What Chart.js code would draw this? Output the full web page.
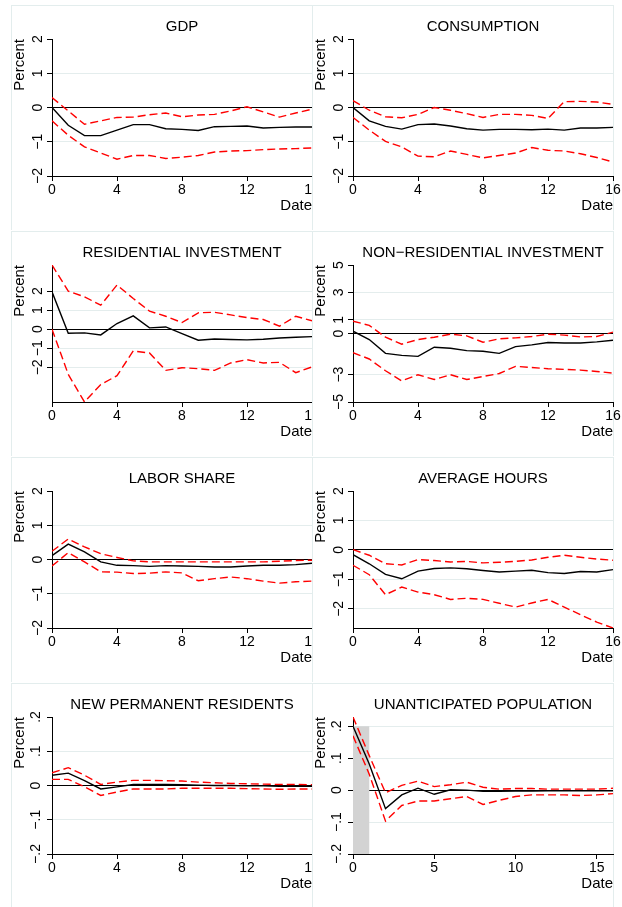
<!DOCTYPE html>
<html>
<head>
<meta charset="utf-8">
<script src="https://cdn.jsdelivr.net/npm/chart.js@4.4.0/dist/chart.umd.min.js"></script>
<style>
  body { margin: 0; background: #fff; width: 622px; height: 907px; position: relative; overflow: hidden; }
  .panel { position: absolute; background: #fff; border-top: 1px solid #e3eded; border-left: 1px solid #e3eded; border-right: 1px solid #e3eded; }
  .panel canvas { position: absolute; left: 0; top: 0; }
</style>
</head>
<body>
<script>
// horizon
var dates = [0, 1, 2, 3, 4, 5, 6, 7, 8, 9, 10, 11, 12, 13, 14, 15, 16];

// GDP
var gdpIrf   = [0, -0.52, -0.82, -0.82, -0.66, -0.5, -0.5, -0.62, -0.64, -0.67, -0.56, -0.55, -0.54, -0.6, -0.58, -0.57, -0.57];
var gdpUpper = [0.29, -0.1, -0.49, -0.39, -0.29, -0.28, -0.21, -0.16, -0.27, -0.22, -0.2, -0.1, 0.02, -0.13, -0.28, -0.16, -0.05];
var gdpLower = [-0.39, -0.81, -1.15, -1.33, -1.51, -1.4, -1.4, -1.49, -1.45, -1.4, -1.3, -1.27, -1.26, -1.23, -1.21, -1.2, -1.18];

// consumption
var consIrf   = [0, -0.39, -0.55, -0.63, -0.5, -0.48, -0.54, -0.62, -0.66, -0.64, -0.64, -0.65, -0.63, -0.66, -0.6, -0.6, -0.58];
var consUpper = [0.2, -0.08, -0.27, -0.3, -0.2, 0, -0.08, -0.18, -0.29, -0.2, -0.2, -0.23, -0.32, 0.17, 0.18, 0.16, 0.09];
var consLower = [-0.29, -0.66, -0.99, -1.15, -1.42, -1.44, -1.27, -1.37, -1.47, -1.4, -1.33, -1.17, -1.25, -1.27, -1.35, -1.46, -1.59];

// residential investment
var resIrf   = [1.96, -0.21, -0.19, -0.3, 0.3, 0.7, 0.07, 0.12, -0.23, -0.58, -0.51, -0.54, -0.56, -0.53, -0.46, -0.42, -0.39];
var resUpper = [3.37, 2.0, 1.7, 1.26, 2.32, 1.61, 0.95, 0.68, 0.35, 0.86, 0.89, 0.75, 0.61, 0.51, 0.16, 0.68, 0.44];
var resLower = [0, -2.37, -3.82, -2.9, -2.44, -1.14, -1.25, -2.16, -2.02, -2.07, -2.16, -1.77, -1.6, -1.77, -1.74, -2.28, -1.98];

// non-residential investment
var nresIrf   = [0.17, -0.44, -1.45, -1.6, -1.67, -1.0, -1.08, -1.25, -1.3, -1.45, -0.96, -0.83, -0.66, -0.69, -0.69, -0.61, -0.49];
var nresUpper = [0.9, 0.59, -0.27, -0.78, -0.44, -0.27, -0.05, -0.17, -0.64, -0.39, -0.32, -0.22, -0.05, -0.12, -0.25, -0.22, 0.1];
var nresLower = [-1.4, -1.86, -2.72, -3.46, -3.01, -3.36, -3.01, -3.36, -3.14, -2.92, -2.4, -2.48, -2.57, -2.62, -2.67, -2.77, -2.89];

// labor share
var labIrf   = [0.11, 0.45, 0.22, -0.07, -0.17, -0.18, -0.2, -0.18, -0.19, -0.2, -0.22, -0.22, -0.19, -0.17, -0.17, -0.15, -0.11];
var labUpper = [0.24, 0.6, 0.37, 0.17, 0.06, -0.04, -0.07, -0.07, -0.07, -0.07, -0.07, -0.07, -0.07, -0.07, -0.05, -0.03, -0.02];
var labLower = [-0.19, 0.2, -0.07, -0.36, -0.37, -0.41, -0.4, -0.36, -0.39, -0.62, -0.56, -0.51, -0.56, -0.63, -0.69, -0.65, -0.63];

// average hours
var hrsIrf   = [-0.16, -0.47, -0.83, -0.98, -0.72, -0.63, -0.61, -0.64, -0.7, -0.75, -0.72, -0.69, -0.77, -0.8, -0.73, -0.75, -0.67];
var hrsUpper = [0.01, -0.18, -0.47, -0.51, -0.33, -0.36, -0.41, -0.39, -0.44, -0.42, -0.39, -0.34, -0.25, -0.18, -0.25, -0.31, -0.35];
var hrsLower = [-0.52, -0.84, -1.52, -1.26, -1.43, -1.52, -1.68, -1.64, -1.68, -1.81, -1.94, -1.8, -1.68, -1.94, -2.2, -2.45, -2.65];

// new permanent residents
var nprIrf   = [0.03, 0.036, 0.014, -0.01, -0.004, 0.003, 0.003, 0.003, 0.002, 0.001, 0, 0, -0.001, -0.001, -0.002, -0.002, -0.002];
var nprUpper = [0.037, 0.052, 0.03, 0.003, 0.01, 0.015, 0.015, 0.014, 0.013, 0.01, 0.008, 0.006, 0.005, 0.004, 0.003, 0.003, 0.002];
var nprLower = [0.018, 0.018, -0.004, -0.029, -0.019, -0.01, -0.01, -0.01, -0.008, -0.008, -0.008, -0.008, -0.009, -0.01, -0.011, -0.01, -0.01];

// unanticipated population
var popIrf   = [0.2, 0.082, -0.058, -0.015, 0.006, -0.013, 0.001, 0, -0.004, -0.004, -0.003, -0.003, -0.002, -0.002, -0.002, -0.002, -0.002];
var popUpper = [0.229, 0.108, -0.008, 0.015, 0.028, 0.011, 0.017, 0.025, 0.009, 0.003, 0.005, 0.005, 0.003, 0.003, 0.003, 0.003, 0.006];
var popLower = [0.17, 0.05, -0.097, -0.048, -0.034, -0.034, -0.027, -0.02, -0.045, -0.032, -0.02, -0.015, -0.015, -0.015, -0.017, -0.015, -0.011];

// shaded shock period in the last panel
var shadeDates = [0, 1];
var shadeBand = [-0.2, 0.2];

// tick labels
var yTicksWide = [-2, -1, 0, 1, 2];
var yTicksNres = [-5, -3, 0, 1, 3, 5];
var yTicksSmall = [-0.2, -0.1, 0, 0.1, 0.2];
var xTicksQ = [0, 4, 8, 12, 16];
var xTicksFive = [0, 5, 10, 15];

var FONT = "'Liberation Sans', Arial, sans-serif";
var GRID = '#e4eded';
Chart.defaults.font.family = FONT;

// stata style labels: .1, −.2, −2
function fmt(v) {
  var s = String(Math.round(v * 1000) / 1000);
  s = s.replace(/^(-?)0\./, '$1.');
  return s.replace('-', '\u2212');
}

function shadeOf(xs, ys) {
  return {
    id: 'shade',
    beforeDatasetsDraw: function(chart) {
      var x = chart.scales.x, y = chart.scales.y, ctx = chart.ctx;
      var l = x.getPixelForValue(xs[0]), r = x.getPixelForValue(xs[1]);
      var t = y.getPixelForValue(ys[1]), b = y.getPixelForValue(ys[0]);
      ctx.save();
      ctx.fillStyle = '#d3d3d3';
      ctx.fillRect(l, t, r - l, b - t);
      ctx.restore();
    }
  };
}

function drawPanel(k, title, irf, upper, lower, yTicks, xTicks, shade) {
  var col = k % 2, row = Math.floor(k / 2);
  var div = document.createElement('div');
  div.className = 'panel';
  div.style.left = (col ? 312 : 11) + 'px';
  div.style.top = (5 + row * 226) + 'px';
  div.style.width = (col ? 300 : 310) + 'px';
  div.style.height = '224px';
  var cv = document.createElement('canvas');
  cv.width = 312; cv.height = 224;
  div.appendChild(cv);
  document.body.appendChild(div);

  var pts = function(arr) { return dates.map(function(d, i) { return {x: d, y: arr[i]}; }); };
  var yMin = Math.min(yTicks[0], Math.min.apply(null, lower), Math.min.apply(null, irf));
  var yMax = Math.max(yTicks[yTicks.length - 1], Math.max.apply(null, upper), Math.max.apply(null, irf));

  new Chart(cv, {
    type: 'line',
    data: {
      datasets: [
        {data: pts(irf), borderColor: '#000', borderWidth: 1.4},
        {data: pts(upper), borderColor: '#ff0000', borderWidth: 1.4, borderDash: [8, 4]},
        {data: pts(lower), borderColor: '#ff0000', borderWidth: 1.4, borderDash: [8, 4]}
      ]
    },
    options: {
      responsive: false,
      animation: false,
      events: [],
      elements: {point: {radius: 0}, line: {tension: 0, fill: false}},
      layout: {padding: {top: 0, left: 0, right: 12, bottom: 0}},
      plugins: {
        legend: {display: false},
        tooltip: {enabled: false},
        title: {display: true, text: title, color: '#000', fullSize: false,
                font: {size: 15, weight: 'normal'}, padding: {top: 12, bottom: 3}}
      },
      scales: {
        x: {
          type: 'linear', min: 0, max: 16,
          afterBuildTicks: function(s) { s.ticks = xTicks.map(function(v) { return {value: v}; }); },
          afterFit: function(s) { s.height = 54; },
          grid: {drawOnChartArea: false, tickLength: 5, tickColor: '#000'},
          border: {color: '#000', width: 1},
          ticks: {color: '#000', font: {size: 14}, padding: 1, maxRotation: 0, autoSkip: false},
          title: {display: true, text: 'Date', align: 'end', color: '#000', font: {size: 15},
                  padding: {top: 0, bottom: 15}}
        },
        y: {
          min: yMin, max: yMax,
          afterBuildTicks: function(s) { s.ticks = yTicks.map(function(v) { return {value: v}; }); },
          afterFit: function(s) { s.width = 40; },
          grid: {
            color: function(c) {
              if (!c.tick) return GRID;
              if (c.tick.value === 0) return '#000';
              if (c.tick.value === c.scale.max) return 'rgba(0,0,0,0)';
              return GRID;
            },
            tickLength: 5, tickColor: '#000'
          },
          border: {color: '#000', width: 1},
          ticks: {color: '#000', font: {size: 14}, padding: 1, minRotation: 90, maxRotation: 90,
                  crossAlign: 'center', autoSkip: false, callback: function(v) { return fmt(v); }},
          title: {display: true, text: 'Percent', align: 'end', color: '#000',
                  font: {size: 15, lineHeight: 1}, padding: 0}
        }
      }
    },
    plugins: shade ? [shade] : []
  });
}

drawPanel(0, 'GDP', gdpIrf, gdpUpper, gdpLower, yTicksWide, xTicksQ);
drawPanel(1, 'CONSUMPTION', consIrf, consUpper, consLower, yTicksWide, xTicksQ);
drawPanel(2, 'RESIDENTIAL INVESTMENT', resIrf, resUpper, resLower, yTicksWide, xTicksQ);
drawPanel(3, 'NON\u2212RESIDENTIAL INVESTMENT', nresIrf, nresUpper, nresLower, yTicksNres, xTicksQ);
drawPanel(4, 'LABOR SHARE', labIrf, labUpper, labLower, yTicksWide, xTicksQ);
drawPanel(5, 'AVERAGE HOURS', hrsIrf, hrsUpper, hrsLower, yTicksWide, xTicksQ);
drawPanel(6, 'NEW PERMANENT RESIDENTS', nprIrf, nprUpper, nprLower, yTicksSmall, xTicksQ);
drawPanel(7, 'UNANTICIPATED POPULATION', popIrf, popUpper, popLower, yTicksSmall, xTicksFive,
          shadeOf(shadeDates, shadeBand));
</script>
</body>
</html>
